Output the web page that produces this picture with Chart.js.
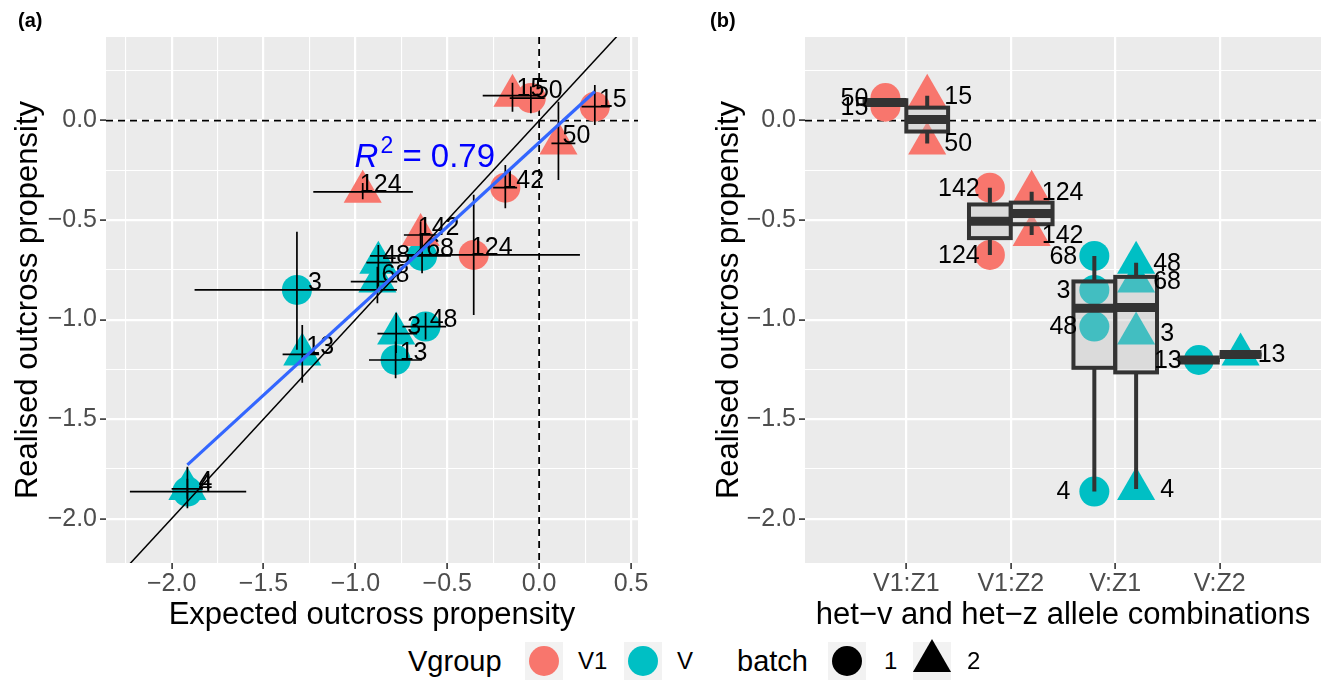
<!DOCTYPE html>
<html>
<head>
<meta charset="utf-8">
<script src="https://cdn.jsdelivr.net/npm/chart.js"></script>
<style>
  html,body{margin:0;padding:0;background:#fff;}
  body{width:1343px;height:680px;position:relative;overflow:hidden;font-family:"Liberation Sans",Arial,Helvetica,sans-serif;}
  canvas{position:absolute;top:0;}
  .tag{position:absolute;top:8px;font-weight:bold;font-size:20px;line-height:24px;color:#000;}
  .leg{position:absolute;top:641px;height:40px;line-height:40px;white-space:nowrap;color:#000;}
  .key{position:absolute;top:642px;width:38px;height:38px;background:#F2F2F2;}
  .key svg{overflow:visible;display:block;}
</style>
</head>
<body>
<canvas id="chartA" width="660" height="640" style="left:0"></canvas>
<canvas id="chartB" width="663" height="640" style="left:680px"></canvas>
<div class="tag" style="left:18px">(a)</div>
<div class="tag" style="left:710px">(b)</div>
<div id="legend"></div>
<script>
// ---------------- data ----------------
const ptLabels    = ['15','50','15','50','142','124','142','124','68','48','68','3','13','3','48','13','4','4'];
const vGroup      = ['V1','V1','V1','V1','V1','V1','V1','V1','V','V','V','V','V','V','V','V','V','V'];
const batch       = [2,1,1,2,1,2,2,1,1,2,2,1,2,2,1,1,1,2];
const combination = ['V1:Z1','V1:Z1','V1:Z1','V1:Z1','V1:Z2','V1:Z2','V1:Z2','V1:Z2','V:Z1','V:Z1','V:Z1','V:Z1','V:Z2','V:Z1','V:Z1','V:Z2','V:Z1','V:Z1'];
const expected    = [-0.145,-0.045,0.303,0.105,-0.184,-0.960,-0.645,-0.356,-0.637,-0.875,-0.880,-1.318,-1.289,-0.778,-0.618,-0.781,-1.914,-1.914];
const realised    = [0.125,0.113,0.070,-0.115,-0.337,-0.358,-0.575,-0.675,-0.680,-0.714,-0.809,-0.851,-1.175,-1.070,-1.035,-1.203,-1.864,-1.851];
const expLow      = [-0.307,-0.160,0.231,0.067,-0.250,-1.229,-0.736,-0.727,-0.920,-0.940,-1.025,-1.875,-1.396,-0.880,-0.744,-0.926,-2.227,-2.000];
const expHigh     = [0.000,0.030,0.385,0.197,-0.120,-0.687,-0.546,0.222,-0.480,-0.760,-0.772,-0.774,-1.197,-0.664,-0.506,-0.637,-1.594,-1.830];
const realLow     = [0.045,0.037,-0.022,-0.298,-0.440,-0.395,-0.650,-0.977,-0.767,-0.834,-0.918,-1.152,-1.317,-1.168,-1.100,-1.295,-1.948,-1.900];
const realHigh    = [0.190,0.171,0.179,0.095,-0.223,-0.313,-0.507,-0.373,-0.574,-0.625,-0.734,-0.558,-1.027,-0.966,-0.966,-1.110,-1.739,-1.800];

const categories  = ['V1:Z1','V1:Z2','V:Z1','V:Z2'];
const groupLevels = ['V1','V'];
const batchLevels = [1,2];

const fitX = [-1.914, 0.303];
const fitY = [-1.730, 0.146];
const rSquared = 0.79;

const xMajorA = [-2.0,-1.5,-1.0,-0.5,0.0,0.5];
const xMinorA = [-2.25,-1.75,-1.25,-0.75,-0.25,0.25];
const yMajor  = [0.0,-0.5,-1.0,-1.5,-2.0];
const yMinor  = [0.25,-0.25,-0.75,-1.25,-1.75];

// ---------------- style ----------------
const FONT = '"Liberation Sans", Arial, Helvetica, sans-serif';
const TICK_SIZE = 25, TITLE_SIZE = 31, LABEL_SIZE = 25;
const groupColors = {V1:'#F8766D', V:'#00BFC4'};
const SHAPE = {1:'circle', 2:'triangle'};
const RADIUS = {1:15, 2:22};
const X_RANGE_A = [-2.357, 0.538];
const Y_RANGE = [-2.223, 0.42];
const X_RANGE_B = [-0.97, 3.97];
const DODGE = 0.2, BOX_HALF = 0.2;
const r2Pos = {x:-0.622, y:-0.231};

const fmtNum = v => (v < 0 ? '\u2212' : '') + Math.abs(v).toFixed(1);

function pointSets(xOf) {
  const sets = [];
  groupLevels.forEach(g => batchLevels.forEach(b => {
    const idx = ptLabels.map((_, i) => i).filter(i => vGroup[i] === g && batch[i] === b);
    sets.push({
      type:'scatter', order:10,
      data: idx.map(i => ({x:xOf(i), y:realised[i]})),
      pointStyle: SHAPE[b], pointRadius: RADIUS[b], pointHoverRadius: RADIUS[b],
      backgroundColor: groupColors[g], borderColor:'rgba(0,0,0,0)', borderWidth:0, pointBorderWidth:0
    });
  }));
  return sets;
}

function numAxis(cfg) {
  const all = cfg.majors.concat(cfg.minors || []).sort((a,b)=>a-b);
  const isMaj = v => cfg.majors.some(m => Math.abs(m - v) < 1e-9);
  return {
    type:'linear', position: cfg.position, min: cfg.min, max: cfg.max,
    afterBuildTicks: s => { s.ticks = all.map(v => ({value:v})); },
    afterFit: s => {
      if (cfg.position === 'bottom') s.height = cfg.size; else s.width = cfg.size;
      s.paddingLeft = 0; s.paddingRight = 0; s.paddingTop = 0; s.paddingBottom = 0;
    },
    grid: {
      color:'#FFFFFF',
      lineWidth: c => (c.tick && isMaj(c.tick.value)) ? 2.2 : 1.1,
      tickColor: c => (c.tick && isMaj(c.tick.value)) ? '#333333' : 'rgba(0,0,0,0)',
      tickWidth: 1.6, tickLength: 6, drawTicks: true
    },
    border: {display:false},
    ticks: {
      autoSkip:false, maxRotation:0, minRotation:0, padding: cfg.tickPad, color:'#4D4D4D',
      font:{family:FONT, size:TICK_SIZE},
      callback: v => isMaj(v) ? cfg.fmt(v) : ''
    },
    title: {display:true, text: cfg.title, color:'#000000', font:{family:FONT, size:TITLE_SIZE}, padding: cfg.titlePad}
  };
}

function fillBg(chart) {
  const {ctx, chartArea:a} = chart;
  ctx.save(); ctx.fillStyle = '#EBEBEB';
  ctx.fillRect(a.left, a.top, a.right - a.left, a.bottom - a.top);
  ctx.restore();
}
function zeroLines(chart, vertical) {
  const {ctx, chartArea:a, scales:{x, y}} = chart;
  ctx.save();
  ctx.strokeStyle = '#000'; ctx.lineWidth = 1.8; ctx.setLineDash([7,5]);
  ctx.beginPath();
  const py = y.getPixelForValue(0);
  ctx.moveTo(a.left, py); ctx.lineTo(a.right, py);
  if (vertical) { const px = x.getPixelForValue(0); ctx.moveTo(px, a.top); ctx.lineTo(px, a.bottom); }
  ctx.stroke(); ctx.restore();
}

// ---------------- panel (a) ----------------
const panelA = {
  id:'panelA',
  beforeDraw(chart) { fillBg(chart); },
  beforeDatasetsDraw(chart) { zeroLines(chart, true); },
  beforeDatasetDraw(chart, args) {
    if (chart.data.datasets[args.index].role !== 'diag') return;
    const {ctx, chartArea:a, scales:{x, y}} = chart;
    ctx.save();
    ctx.beginPath(); ctx.rect(a.left, a.top, a.right - a.left, a.bottom - a.top); ctx.clip();
    ctx.strokeStyle = '#000'; ctx.lineWidth = 1.7;
    expected.forEach((ex, i) => {
      const px = x.getPixelForValue(ex), py = y.getPixelForValue(realised[i]);
      ctx.beginPath();
      ctx.moveTo(x.getPixelForValue(expLow[i]), py); ctx.lineTo(x.getPixelForValue(expHigh[i]), py);
      ctx.moveTo(px, y.getPixelForValue(realLow[i])); ctx.lineTo(px, y.getPixelForValue(realHigh[i]));
      ctx.stroke();
    });
    ctx.fillStyle = '#000'; ctx.font = LABEL_SIZE + 'px ' + FONT; ctx.textAlign = 'center'; ctx.textBaseline = 'alphabetic';
    expected.forEach((ex, i) => {
      ctx.fillText(ptLabels[i], x.getPixelForValue(ex) + 18, y.getPixelForValue(realised[i]));
    });
    ctx.restore();
  },
  afterDatasetsDraw(chart) {
    const {ctx, scales:{x, y}} = chart;
    const cx = x.getPixelForValue(r2Pos.x), by = y.getPixelForValue(r2Pos.y);
    ctx.save();
    ctx.fillStyle = '#0000FF'; ctx.textBaseline = 'alphabetic'; ctx.textAlign = 'left';
    const fI = 'italic 33px ' + FONT, fN = '33px ' + FONT, fS = '23px ' + FONT;
    const t3 = ' = ' + rSquared.toFixed(2);
    ctx.font = fI; const w1 = ctx.measureText('R').width;
    ctx.font = fS; const w2 = ctx.measureText('2').width;
    ctx.font = fN; const w3 = ctx.measureText(t3).width;
    let sx = cx - (w1 + w2 + 2 + w3) / 2;
    ctx.font = fI; ctx.fillText('R', sx, by); sx += w1 + 2;
    ctx.font = fS; ctx.fillText('2', sx, by - 14); sx += w2;
    ctx.font = fN; ctx.fillText(t3, sx, by);
    ctx.restore();
  }
};

new Chart(document.getElementById('chartA'), {
  type:'scatter',
  data:{datasets:[
    ...pointSets(i => expected[i]),
    {type:'line', role:'diag', order:2,
     data:[{x:X_RANGE_A[0], y:X_RANGE_A[0]}, {x:X_RANGE_A[1], y:X_RANGE_A[1]}],
     borderColor:'#000000', borderWidth:1.5, pointRadius:0, fill:false, clip:0, showLine:true},
    {type:'line', order:1,
     data: fitX.map((v, i) => ({x:v, y:fitY[i]})),
     borderColor:'#3366FF', borderWidth:3.2, pointRadius:0, fill:false, showLine:true}
  ]},
  options:{
    responsive:false, animation:false, events:[],
    layout:{padding:{top:37, right:20, bottom:0, left:0}},
    scales:{
      x: numAxis({position:'bottom', min:X_RANGE_A[0], max:X_RANGE_A[1], majors:xMajorA, minors:xMinorA, size:77, tickPad:0,
                  fmt:fmtNum, title:'Expected outcross propensity', titlePad:{top:0, bottom:6}}),
      y: numAxis({position:'left', min:Y_RANGE[0], max:Y_RANGE[1], majors:yMajor, minors:yMinor, size:106, tickPad:3,
                  fmt:fmtNum, title:'Realised outcross propensity', titlePad:{top:10, bottom:0}})
    },
    plugins:{legend:{display:false}, tooltip:{enabled:false}}
  },
  plugins:[panelA]
});

// ---------------- panel (b) ----------------
function quantile(sorted, p) {
  const h = (sorted.length - 1) * p, lo = Math.floor(h), hi = Math.ceil(h);
  return sorted[lo] + (h - lo) * (sorted[hi] - sorted[lo]);
}
const dodgeX = i => categories.indexOf(combination[i]) + (batch[i] === 1 ? -DODGE : DODGE);

const panelB = {
  id:'panelB',
  beforeDraw(chart) { fillBg(chart); },
  beforeDatasetsDraw(chart) { zeroLines(chart, false); },
  afterDatasetsDraw(chart) {
    const {ctx, scales:{x, y}} = chart;
    ctx.save();
    categories.forEach((cat, ci) => batchLevels.forEach(b => {
      const vals = realised.filter((_, i) => combination[i] === cat && batch[i] === b).sort((p, q) => p - q);
      if (!vals.length) return;
      const q1 = quantile(vals, 0.25), med = quantile(vals, 0.5), q3 = quantile(vals, 0.75);
      const iqr = q3 - q1;
      const lo = Math.min(...vals.filter(v => v >= q1 - 1.5 * iqr));
      const hi = Math.max(...vals.filter(v => v <= q3 + 1.5 * iqr));
      const xc = ci + (b === 1 ? -DODGE : DODGE);
      const px = x.getPixelForValue(xc);
      const xl = x.getPixelForValue(xc - BOX_HALF), xr = x.getPixelForValue(xc + BOX_HALF);
      const yq1 = y.getPixelForValue(q1), yq3 = y.getPixelForValue(q3);
      ctx.strokeStyle = '#333333'; ctx.lineWidth = 4; ctx.lineCap = 'butt';
      ctx.beginPath();
      ctx.moveTo(px, yq3); ctx.lineTo(px, y.getPixelForValue(hi));
      ctx.moveTo(px, yq1); ctx.lineTo(px, y.getPixelForValue(lo));
      ctx.stroke();
      ctx.fillStyle = 'rgba(190,190,190,0.35)';
      ctx.fillRect(xl, yq3, xr - xl, yq1 - yq3);
      ctx.strokeRect(xl, yq3, xr - xl, yq1 - yq3);
      ctx.lineWidth = 9;
      ctx.beginPath();
      const ym = y.getPixelForValue(med);
      ctx.moveTo(xl, ym); ctx.lineTo(xr, ym); ctx.stroke();
    }));
    ctx.fillStyle = '#000'; ctx.font = LABEL_SIZE + 'px ' + FONT; ctx.textAlign = 'center'; ctx.textBaseline = 'middle';
    realised.forEach((v, i) => {
      const px = x.getPixelForValue(dodgeX(i)) + (batch[i] === 1 ? -31 : 31);
      ctx.fillText(ptLabels[i], px, y.getPixelForValue(v) + 1);
    });
    ctx.restore();
  }
};

new Chart(document.getElementById('chartB'), {
  type:'scatter',
  data:{datasets: pointSets(dodgeX)},
  options:{
    responsive:false, animation:false, events:[],
    layout:{padding:{top:37, right:5, bottom:0, left:0}},
    scales:{
      x:{
        type:'linear', position:'bottom', min:X_RANGE_B[0], max:X_RANGE_B[1],
        afterBuildTicks: s => { s.ticks = categories.map((_, i) => ({value:i})); },
        afterFit: s => { s.height = 77; s.paddingLeft = 0; s.paddingRight = 0; },
        grid:{color:'#FFFFFF', lineWidth:2.2, tickColor:'#333333', tickWidth:1.6, tickLength:6},
        border:{display:false},
        ticks:{autoSkip:false, maxRotation:0, minRotation:0, padding:0, color:'#4D4D4D',
               font:{family:FONT, size:TICK_SIZE}, callback: v => categories[Math.round(v)] || ''},
        title:{display:true, text:'het\u2212v and het\u2212z allele combinations', color:'#000000',
               font:{family:FONT, size:TITLE_SIZE}, padding:{top:0, bottom:6}}
      },
      y: numAxis({position:'left', min:Y_RANGE[0], max:Y_RANGE[1], majors:yMajor, minors:yMinor, size:125, tickPad:3,
                  fmt:fmtNum, title:'Realised outcross propensity', titlePad:{top:31, bottom:0}})
    },
    plugins:{legend:{display:false}, tooltip:{enabled:false}}
  },
  plugins:[panelB]
});

// ---------------- legend ----------------
const legendSpec = [
  {kind:'title', text:'Vgroup', left:408},
  {kind:'key', shape:'circle', fill:groupColors[groupLevels[0]], left:525},
  {kind:'label', text:groupLevels[0], left:578},
  {kind:'key', shape:'circle', fill:groupColors[groupLevels[1]], left:624},
  {kind:'label', text:groupLevels[1], left:677},
  {kind:'title', text:'batch', left:737},
  {kind:'key', shape:'circle', fill:'#000000', left:828},
  {kind:'label', text:String(batchLevels[0]), left:884},
  {kind:'key', shape:'triangle', fill:'#000000', left:913},
  {kind:'label', text:String(batchLevels[1]), left:967}
];
const legendEl = document.getElementById('legend');
const NS = 'http://www.w3.org/2000/svg';
legendSpec.forEach(item => {
  if (item.kind === 'key') {
    const d = document.createElement('div'); d.className = 'key'; d.style.left = item.left + 'px';
    const svg = document.createElementNS(NS, 'svg'); svg.setAttribute('width', 38); svg.setAttribute('height', 38);
    let sh;
    if (item.shape === 'circle') {
      sh = document.createElementNS(NS, 'circle');
      sh.setAttribute('cx', 19); sh.setAttribute('cy', 19); sh.setAttribute('r', 15);
    } else {
      sh = document.createElementNS(NS, 'polygon');
      const r = 22, c = 19, s = r * Math.sin(Math.PI / 3);
      sh.setAttribute('points', `${c},${c - r} ${c + s},${c + r / 2} ${c - s},${c + r / 2}`);
    }
    sh.setAttribute('fill', item.fill);
    svg.appendChild(sh); d.appendChild(svg); legendEl.appendChild(d);
  } else {
    const s = document.createElement('div'); s.className = 'leg';
    s.style.left = item.left + 'px';
    s.style.fontSize = (item.kind === 'title' ? 29 : 24) + 'px';
    s.textContent = item.text;
    legendEl.appendChild(s);
  }
});
</script>
</body>
</html>
